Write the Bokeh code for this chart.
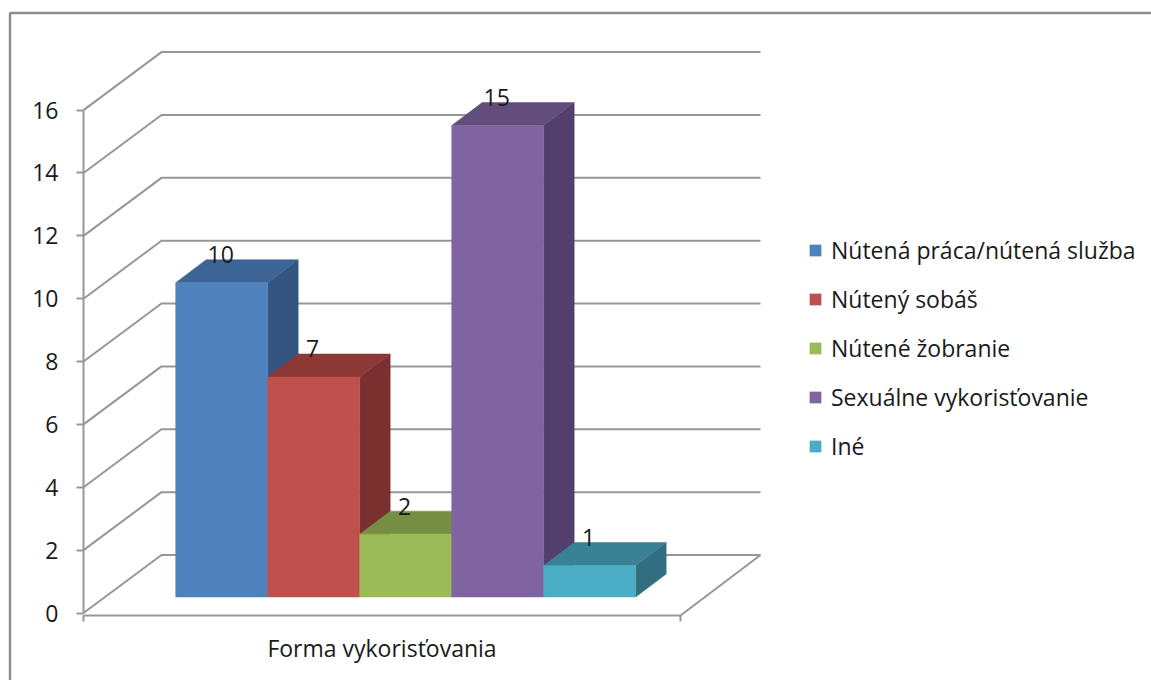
from bokeh.plotting import figure
from bokeh.models import Legend, LegendItem, LinearAxis, FixedTicker, Range1d
from bokeh.core.properties import value as V
from bokeh.embed import file_html
from bokeh.resources import INLINE

categories = ["Nútená práca/nútená služba", "Nútený sobáš", "Nútené žobranie", "Sexuálne vykorisťovanie", "Iné"]
values = [10, 7, 2, 15, 1]
front_colors = ["#4F81BD", "#C0504D", "#9BBB59", "#8064A2", "#4BACC6"]
top_colors = ["#3C6494", "#8E3836", "#778F44", "#624D7D", "#398296"]
side_colors = ["#33557F", "#7A302E", "#677B3A", "#533F6B", "#316F80"]
y_ticks = [0, 2, 4, 6, 8, 10, 12, 14, 16]
x_title = "Forma vykorisťovania"

FONT = "Open Sans"
FSIZE = "23px"
W, H = 1151, 680
PX_PER_UNIT = 31.43
Y0 = 612.5


def v_at(px):
    return (Y0 - px) / PX_PER_UNIT


GRID = "#979797"
p = figure(width=W, height=H, output_backend="svg", toolbar_location=None,
           x_range=Range1d(0, W), y_range=Range1d(v_at(H), v_at(0)),
           min_border=0, x_axis_location=None, y_axis_location=None)
p.grid.visible = False
p.outline_line_color = None
p.background_fill_color = "white"

# outer chart frame
p.line([9.5, 9.5, W], [v_at(H), v_at(12.5), v_at(12.5)], line_color="#8E8E8E", line_width=2.4)

# walls
WALL_DX, WALL_DV = 78, 58 / PX_PER_UNIT
for t in y_ticks:
    p.line([83, 83 + WALL_DX, 760], [t, t + WALL_DV, t + WALL_DV], line_color=GRID, line_width=2)
p.line([760, 680], [WALL_DV, v_at(615)], line_color=GRID, line_width=2)

# bars
BAR_LEFT, BAR_W = 175.2, 92
BAR_BASE = v_at(596.5)
DX, DV = 30.5, 23 / PX_PER_UNIT
fronts = []
for i, val in enumerate(values):
    l, r = BAR_LEFT + i * BAR_W, BAR_LEFT + (i + 1) * BAR_W
    top = BAR_BASE + val
    p.patch([r, r + DX, r + DX, r], [BAR_BASE, BAR_BASE + DV, top + DV, top],
            fill_color=side_colors[i], line_color=side_colors[i], line_width=0.5)
    p.patch([l, l + DX, r + DX, r], [top, top + DV, top + DV, top],
            fill_color=top_colors[i], line_color=top_colors[i], line_width=0.5)
    fronts.append(p.quad(left=l, right=r, bottom=BAR_BASE, top=top,
                         fill_color=front_colors[i], line_color=front_colors[i], line_width=0.5))

# data labels
label_x = [BAR_LEFT + (i + 0.5) * BAR_W for i in range(len(values))]
label_top = [BAR_BASE + v for v in values]
p.text(label_x, label_top, text=[str(v) for v in values], text_font=V(FONT), text_font_size=FSIZE,
       text_color="#1a1a1a", text_align="center", text_baseline="middle", y_offset=-28, x_offset=-1)

# axes
yaxis = LinearAxis(fixed_location=83, bounds=(0, 16), ticker=FixedTicker(ticks=y_ticks))
yaxis.axis_line_color = GRID
yaxis.axis_line_width = 2
yaxis.major_tick_line_color = GRID
yaxis.major_tick_line_width = 2
yaxis.major_tick_out = 7
yaxis.major_tick_in = 0
yaxis.minor_tick_out = 0
yaxis.minor_tick_in = 0
yaxis.major_label_standoff = 18
yaxis.major_label_text_font = FONT
yaxis.major_label_text_font_size = FSIZE
yaxis.major_label_text_color = "#1a1a1a"
p.add_layout(yaxis, "left")

xaxis = LinearAxis(fixed_location=v_at(614.7), bounds=(83, 680), ticker=FixedTicker(ticks=[83, 680]))
xaxis.axis_line_color = GRID
xaxis.axis_line_width = 2
xaxis.major_tick_line_color = GRID
xaxis.major_tick_line_width = 2
xaxis.major_tick_out = 6
xaxis.major_tick_in = 0
xaxis.minor_tick_out = 0
xaxis.minor_tick_in = 0
xaxis.major_label_text_font_size = "0px"
xaxis.major_label_overrides = {83: "", 680: ""}
xaxis.axis_label = x_title
xaxis.axis_label_text_font = FONT
xaxis.axis_label_text_font_size = FSIZE
xaxis.axis_label_text_font_style = "normal"
xaxis.axis_label_text_color = "#1a1a1a"
xaxis.axis_label_standoff = 10
p.add_layout(xaxis, "below")

# legend
legend = Legend(items=[LegendItem(label=c, renderers=[fronts[i]]) for i, c in enumerate(categories)],
                location=(808, 218), orientation="vertical", glyph_width=14, glyph_height=14,
                label_standoff=9, spacing=17, margin=0, padding=0,
                label_text_font=FONT, label_text_font_size=FSIZE, label_text_color="#1a1a1a",
                border_line_color=None, background_fill_alpha=0)
p.add_layout(legend)

open("out.html", "w").write(file_html(p, INLINE))
